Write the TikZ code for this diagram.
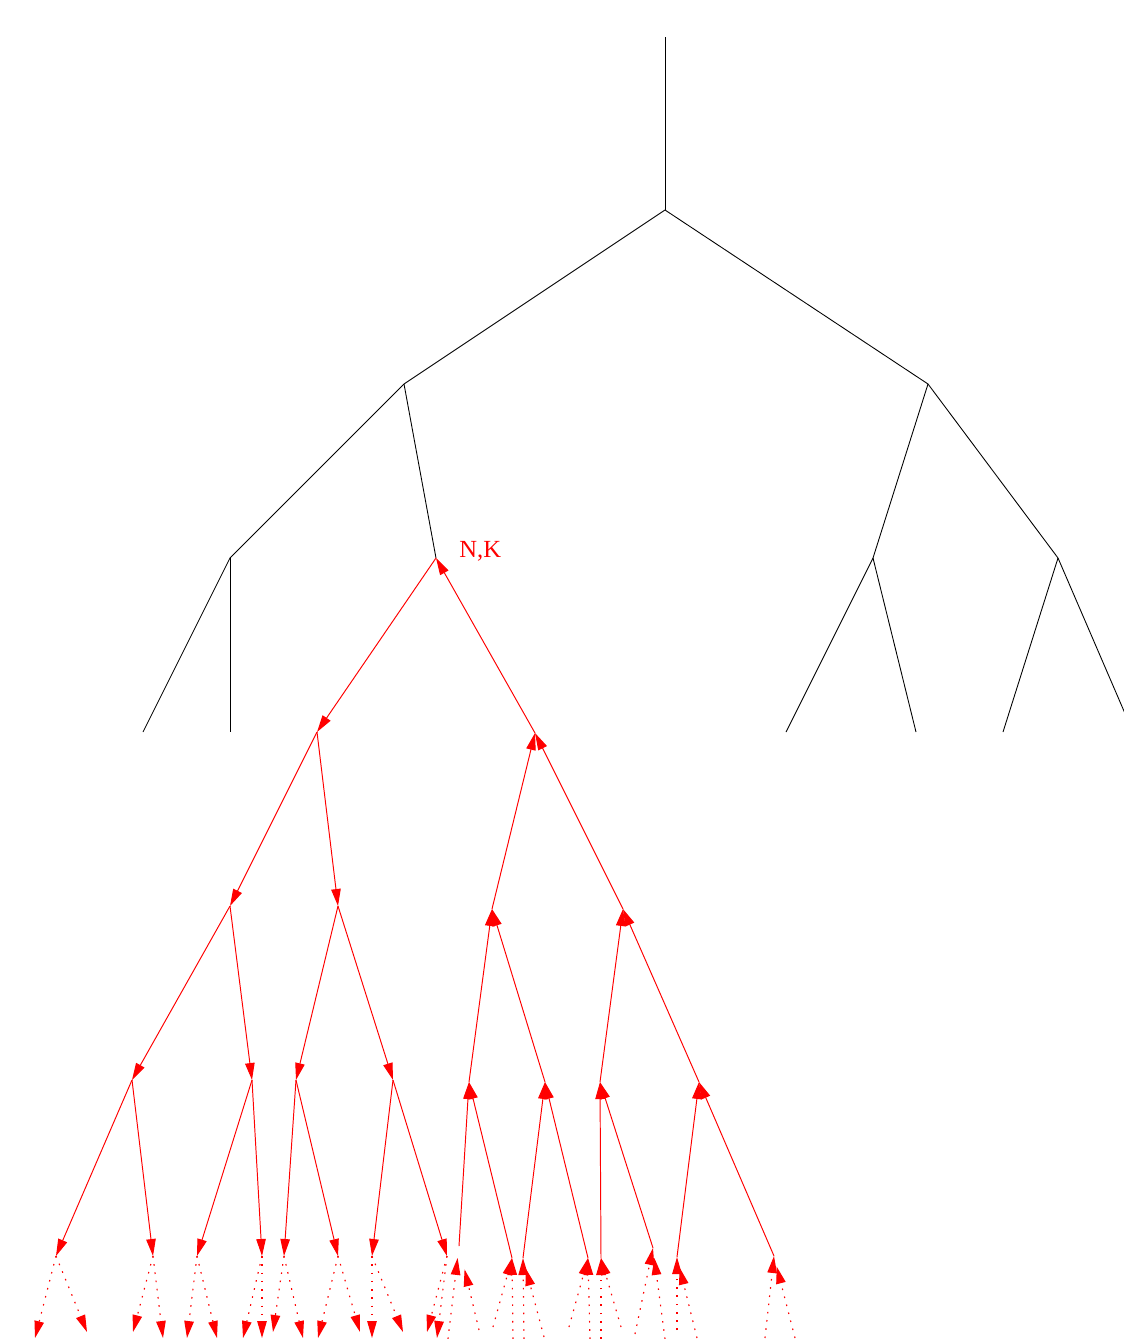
\documentclass[tikz,border=0pt]{standalone}
\usepackage{fontspec}
\setmainfont{Liberation Serif}
\usetikzlibrary{arrows.meta}
\tikzset{edge/.style={black,line width=0.5pt},arr/.style={red,line width=0.55pt,-{Triangle[length=0.34cm,width=0.19cm]}},stub/.style={arr,line width=0.65pt,dash pattern=on 0.9pt off 3.8pt}}

\begin{document}
\begin{tikzpicture}[x=0.02cm,y=-0.02cm]
\useasboundingbox (0,0) rectangle (1124,1339);
\clip (0,0) rectangle (1124,1339);
% black part
\coordinate (top) at (665,37);
\coordinate (r) at (665,210);
\coordinate (a) at (404,384);
\coordinate (b) at (928,384);
\coordinate (a0) at (230,558);
\coordinate (k) at (436,558);
\coordinate (b0) at (873,558);
\coordinate (b1) at (1058,558);
\coordinate (a00) at (143,732);
\coordinate (a01) at (230,732);
\coordinate (b00) at (786,732);
\coordinate (b01) at (916,732);
\coordinate (b10) at (1003,732);
\coordinate (b11) at (1133,732);
\draw[edge] (top)--(r);
\draw[edge] (r)--(a); \draw[edge] (r)--(b);
\draw[edge] (a)--(a0); \draw[edge] (a)--(k);
\draw[edge] (b)--(b0); \draw[edge] (b)--(b1);
\draw[edge] (a0)--(a00); \draw[edge] (a0)--(a01);
\draw[edge] (b0)--(b00); \draw[edge] (b0)--(b01);
\draw[edge] (b1)--(b10); \draw[edge] (b1)--(b11);
\node[red,font=\fontsize{14}{16}\selectfont,anchor=base west,inner sep=0pt] (nk) at (459,557) {N,K};
% red part
\coordinate (k0) at (317,732);
\coordinate (k1) at (535,733);
\coordinate (k00) at (230,906);
\coordinate (k01) at (338,906);
\coordinate (k10) at (492,909);
\coordinate (k11) at (623,909);
\coordinate (k000) at (132,1080);
\coordinate (k001) at (252,1080);
\coordinate (k010) at (296,1080);
\coordinate (k011) at (393,1080);
\coordinate (k100) at (469,1082);
\coordinate (k101) at (545,1082);
\coordinate (k110) at (600,1082);
\coordinate (k111) at (699,1082);
\coordinate (k0000) at (56,1256);
\coordinate (k0001) at (153,1256);
\coordinate (k0010) at (197,1256);
\coordinate (k0011) at (262,1256);
\coordinate (k0100) at (284,1256);
\coordinate (k0101) at (338,1256);
\coordinate (k0110) at (372,1256);
\coordinate (k0111) at (447,1256);
\coordinate (k1000) at (459,1246);
\coordinate (k1001) at (512,1258);
\coordinate (k1010) at (523,1258);
\coordinate (k1011) at (588,1258);
\coordinate (k1100) at (601,1258);
\coordinate (k1101) at (653,1248);
\coordinate (k1110) at (677,1257);
\coordinate (k1111) at (774,1256);
\draw[arr] (k)--(k0);
\draw[arr] (k1)--(k);
\draw[arr] (k0)--(k00); \draw[arr] (k0)--(k01);
\draw[arr] (k10)--(k1); \draw[arr] (k11)--(k1);
\draw[arr] (k00)--(k000); \draw[arr] (k00)--(k001);
\draw[arr] (k01)--(k010); \draw[arr] (k01)--(k011);
\draw[arr] (k100)--(k10); \draw[arr] (k101)--(k10);
\draw[arr] (k110)--(k11); \draw[arr] (k111)--(k11);
\draw[arr] (k000)--(k0000); \draw[arr] (k000)--(k0001);
\draw[arr] (k001)--(k0010); \draw[arr] (k001)--(k0011);
\draw[arr] (k010)--(k0100); \draw[arr] (k010)--(k0101);
\draw[arr] (k011)--(k0110); \draw[arr] (k011)--(k0111);
\draw[arr] (k1000)--(k100); \draw[arr] (k1001)--(k100);
\draw[arr] (k1010)--(k101); \draw[arr] (k1011)--(k101);
\draw[arr] (k1100)--(k110); \draw[arr] (k1101)--(k110);
\draw[arr] (k1110)--(k111); \draw[arr] (k1111)--(k111);
% dotted stubs
\coordinate (k0000a) at (35,1338); \coordinate (k0000b) at (87,1332);
\coordinate (k0001a) at (133,1332); \coordinate (k0001b) at (163,1338);
\coordinate (k0010a) at (187,1338); \coordinate (k0010b) at (217,1338);
\coordinate (k0011a) at (243,1338); \coordinate (k0011b) at (262,1338);
\coordinate (k0100a) at (273,1332); \coordinate (k0100b) at (303,1338);
\coordinate (k0101a) at (318,1338); \coordinate (k0101b) at (360,1332);
\coordinate (k0110a) at (372,1338); \coordinate (k0110b) at (403,1332);
\coordinate (k0111a) at (427,1332); \coordinate (k0111b) at (437,1338);
\coordinate (k1000a) at (448,1339); \coordinate (k1000b) at (479,1330);
\coordinate (k1001a) at (493,1327); \coordinate (k1001b) at (513,1339);
\coordinate (k1010a) at (524,1339); \coordinate (k1010b) at (544,1337);
\coordinate (k1011a) at (569,1327); \coordinate (k1011b) at (590,1339);
\coordinate (k1100a) at (601,1339); \coordinate (k1100b) at (621,1327);
\coordinate (k1101a) at (635,1334); \coordinate (k1101b) at (665,1339);
\coordinate (k1110a) at (677,1330); \coordinate (k1110b) at (697,1338);
\coordinate (k1111a) at (765,1338); \coordinate (k1111b) at (795,1338);
\draw[stub] (k0000)--(k0000a); \draw[stub] (k0000)--(k0000b);
\draw[stub] (k0001)--(k0001a); \draw[stub] (k0001)--(k0001b);
\draw[stub] (k0010)--(k0010a); \draw[stub] (k0010)--(k0010b);
\draw[stub] (k0011)--(k0011a); \draw[stub] (k0011)--(k0011b);
\draw[stub] (k0100)--(k0100a); \draw[stub] (k0100)--(k0100b);
\draw[stub] (k0101)--(k0101a); \draw[stub] (k0101)--(k0101b);
\draw[stub] (k0110)--(k0110a); \draw[stub] (k0110)--(k0110b);
\draw[stub] (k0111)--(k0111a); \draw[stub] (k0111)--(k0111b);
\draw[stub,shorten >=0.24cm] (k1000a)--(k1000); \draw[stub,shorten >=0.48cm] (k1000b)--(k1000);
\draw[stub] (k1001a)--(k1001); \draw[stub] (k1001b)--(k1001);
\draw[stub] (k1010a)--(k1010); \draw[stub,shorten >=0.22cm] (k1010b)--(k1010);
\draw[stub] (k1011a)--(k1011); \draw[stub] (k1011b)--(k1011);
\draw[stub] (k1100a)--(k1100); \draw[stub] (k1100b)--(k1100);
\draw[stub] (k1101a)--(k1101); \draw[stub,shorten >=0.2cm] (k1101b)--(k1101);
\draw[stub] (k1110a)--(k1110); \draw[stub,shorten >=0.22cm] (k1110b)--(k1110);
\draw[stub] (k1111a)--(k1111); \draw[stub,shorten >=0.22cm] (k1111b)--(k1111);
\end{tikzpicture}
\end{document}
